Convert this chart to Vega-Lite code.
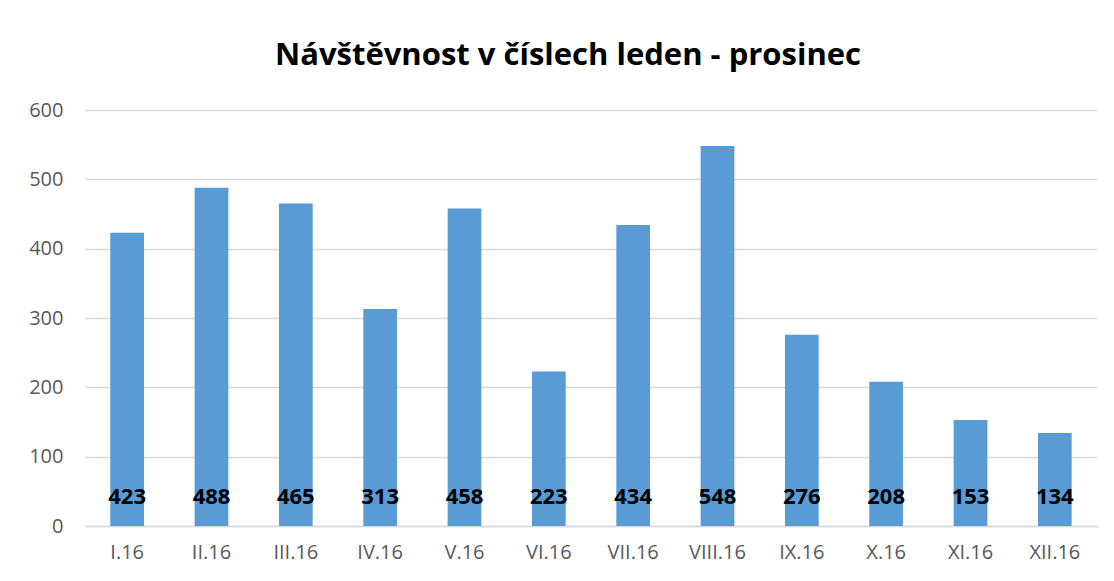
{
  "$schema": "https://vega.github.io/schema/vega-lite/v6.json",
  "autosize": {"type": "none"},
  "width": 1012,
  "height": 416,
  "padding": {"left": 85, "top": 110, "right": 17, "bottom": 55},
  "background": "white",
  "view": {"stroke": null},
  "title": {
    "text": "Návštěvnost v číslech leden - prosinec",
    "font": "Open Sans",
    "fontSize": 31,
    "fontWeight": "bold",
    "color": "#000000",
    "anchor": "middle",
    "dx": -23,
    "offset": 28
  },
  "data": {
    "values": [
      {"mesic": "I.16", "pocet": 423},
      {"mesic": "II.16", "pocet": 488},
      {"mesic": "III.16", "pocet": 465},
      {"mesic": "IV.16", "pocet": 313},
      {"mesic": "V.16", "pocet": 458},
      {"mesic": "VI.16", "pocet": 223},
      {"mesic": "VII.16", "pocet": 434},
      {"mesic": "VIII.16", "pocet": 548},
      {"mesic": "IX.16", "pocet": 276},
      {"mesic": "X.16", "pocet": 208},
      {"mesic": "XI.16", "pocet": 153},
      {"mesic": "XII.16", "pocet": 134}
    ]
  },
  "encoding": {
    "x": {
      "field": "mesic",
      "type": "nominal",
      "sort": null,
      "scale": {"paddingInner": 0.6, "paddingOuter": 0.3},
      "axis": {
        "title": null,
        "labelAngle": 0,
        "labelFont": "Open Sans",
        "labelFontSize": 20,
        "labelColor": "#595959",
        "labelPadding": 16,
        "ticks": false,
        "domainColor": "#D9D9D9",
        "domainWidth": 1.5
      }
    }
  },
  "layer": [
    {
      "mark": {"type": "bar", "color": "#5B9BD5"},
      "encoding": {
        "y": {
          "field": "pocet",
          "type": "quantitative",
          "scale": {"domain": [0, 600]},
          "axis": {
            "title": null,
            "values": [0, 100, 200, 300, 400, 500, 600],
            "labelFont": "Open Sans",
            "labelFontSize": 20,
            "labelColor": "#595959",
            "labelPadding": 22,
            "ticks": false,
            "domain": false,
            "gridColor": "#D9D9D9",
            "gridWidth": 1.5
          }
        }
      }
    },
    {
      "mark": {
        "type": "text",
        "font": "Open Sans",
        "fontSize": 22,
        "fontWeight": "bold",
        "color": "#000000",
        "baseline": "middle",
        "dy": -29
      },
      "encoding": {
        "y": {"datum": 0, "type": "quantitative"},
        "text": {"field": "pocet", "type": "quantitative"}
      }
    }
  ]
}
